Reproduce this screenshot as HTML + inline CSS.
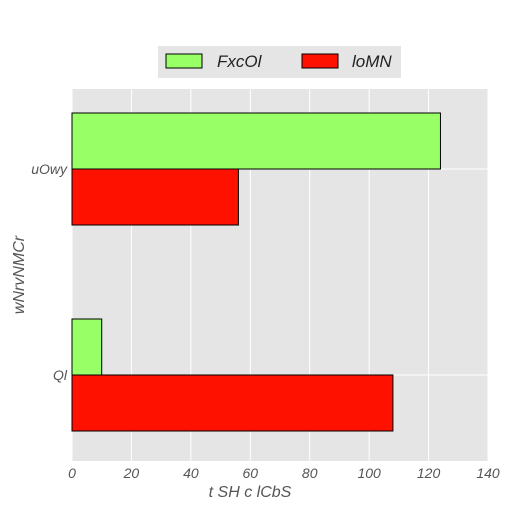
<!DOCTYPE html>
<html><head><meta charset="utf-8"><style>
body{margin:0;background:#fff}
text{font-family:"Liberation Sans",sans-serif;font-style:italic}
</style></head><body>
<svg id="chart" width="511" height="511" xmlns="http://www.w3.org/2000/svg">
<rect x="72" y="89" width="416" height="372" fill="#e5e5e5"/>
<g id="grid"></g>
<g id="bars"></g>
<g id="ticks"></g>
<text x="250" y="497" font-size="16" fill="#555" text-anchor="middle">t SH c lCbS</text>
<text x="24" y="275" font-size="16" fill="#555" text-anchor="middle" transform="rotate(-90 24 275)">wNrvNMCr</text>
<g>
<rect x="158" y="46" width="243" height="32" fill="#e5e5e5"/>
<rect x="166" y="54" width="36" height="14" fill="#99ff66" stroke="#000" stroke-width="1"/>
<text x="217" y="67" font-size="17" fill="#222">FxcOl</text>
<rect x="302" y="54" width="36" height="14" fill="#ff1100" stroke="#000" stroke-width="1"/>
<text x="352" y="67" font-size="17" fill="#222">loMN</text>
</g>
</svg>
<script>
const categories = ["Ql","uOwy"];
const seriesFxcOl = [10,124];
const seriesLoMN = [108,56];
const xTicks = [0,20,40,60,80,100,120,140];
const NS="http://www.w3.org/2000/svg";
function xs(v){return 72+v*(416/140);}
function ys(i){return 375-206*i;}
const grid=document.getElementById('grid'),bars=document.getElementById('bars'),ticks=document.getElementById('ticks');
function mk(tag,attrs,parent){const e=document.createElementNS(NS,tag);for(const k in attrs)e.setAttribute(k,attrs[k]);parent.appendChild(e);return e;}
xTicks.forEach(t=>{
  const l=mk('line',{x1:xs(t),x2:xs(t),y1:89,y2:461,stroke:'#fff','stroke-width':1},grid);
  
  
  const tx=mk('text',{x:xs(t),y:478,'font-size':14,fill:'#555','text-anchor':'middle'},ticks);
  tx.textContent=t;
  
  
});
categories.forEach((c,i)=>{
  const l=mk('line',{x1:72,x2:488,y1:ys(i),y2:ys(i),stroke:'#fff','stroke-width':1},grid);
  
  
  const tx=mk('text',{x:67,y:ys(i)+5,'font-size':14,fill:'#555','text-anchor':'end'},ticks);
  tx.textContent=c;
  
  
  const g=mk('rect',{x:xs(0),y:ys(i)-56,width:xs(seriesFxcOl[i])-xs(0),height:56,fill:'#99ff66',stroke:'#000','stroke-width':1},bars);
  
  
  const r=mk('rect',{x:xs(0),y:ys(i),width:xs(seriesLoMN[i])-xs(0),height:56,fill:'#ff1100',stroke:'#000','stroke-width':1},bars);
  
  
});
</script>
</body></html>
